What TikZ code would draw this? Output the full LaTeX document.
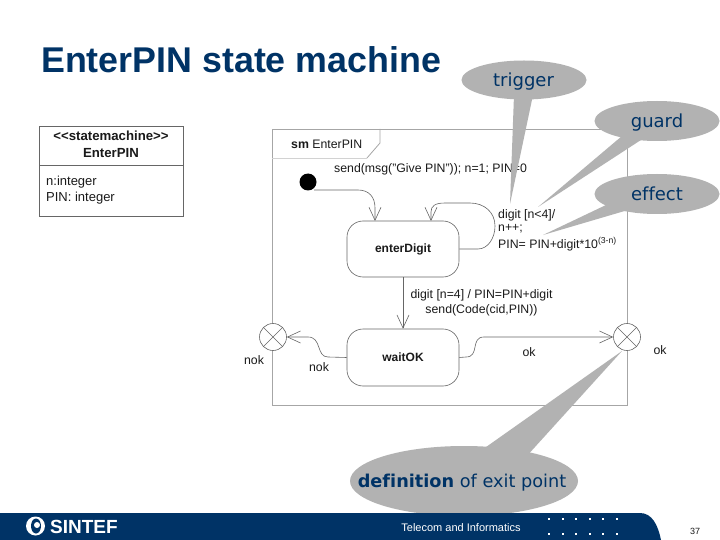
\documentclass[tikz,border=0pt]{standalone}
\usepackage{fontspec}
\setmainfont{Liberation Sans}
\newfontfamily\callfont[Ligatures=NoCommon]{DejaVu Sans}
\usetikzlibrary{calc,arrows.meta,shapes.geometric}
\definecolor{navy}{HTML}{003366}
\definecolor{bubble}{HTML}{B2B2B2}
\definecolor{frameline}{HTML}{A6A6A6}
\definecolor{ink}{HTML}{1A1A1A}
\definecolor{edge}{HTML}{666666}
\tikzset{
  frameln/.style={draw=frameline, line width=0.8pt},
  statebox/.style={draw=edge, line width=0.6pt, rounded corners=16pt, minimum width=112pt, minimum height=56pt, inner sep=0pt, text=ink, font=\fontsize{12}{14}\selectfont\bfseries},
  trans/.style={draw=edge, line width=0.6pt, -{Straight Barb[length=13pt,width=12pt,line width=0.6pt]}},
  exitpt/.style={circle, draw=edge, fill=white, line width=0.6pt, minimum size=27pt, inner sep=0pt},
  lab/.style={text=ink, inner sep=0pt, font=\fontsize{12.3}{14}\selectfont},
  clslab/.style={text=ink, inner sep=0pt, font=\fontsize{13}{15}\selectfont},
  tag/.style={ellipse, fill=bubble, inner sep=0pt},
  tagtext/.style={anchor=base, inner sep=0pt, text=navy, font=\callfont\fontsize{18}{20}\selectfont},
  tail/.style={fill=bubble},
}
\begin{document}
\begin{tikzpicture}[x=1pt,y=-1pt]
  \useasboundingbox (0,0) rectangle (720,540);
  \fill[white] (0,0) rectangle (720,540);
  \node[anchor=west, inner sep=0pt, text=navy, font=\fontsize{35.8}{40}\selectfont\bfseries] (title) at (41,60) {EnterPIN state machine};

  % class box
  \draw[draw=edge, line width=0.8pt] (39,126) rectangle (183,216);
  \draw[draw=edge, line width=0.8pt] (39,165) -- (183,165);
  \node[clslab, font=\fontsize{13.2}{15}\selectfont\bfseries] (stereo) at (111,136) {<{}<statemachine>{}>};
  \node[clslab, font=\fontsize{13.2}{15}\selectfont\bfseries] (clsname) at (111,153) {EnterPIN};
  \node[clslab, anchor=west] (attn) at (46,182) {n:integer};
  \node[clslab, anchor=west] (attpin) at (46,198) {PIN: integer};

  % frame
  \draw[frameln] (272,129) rectangle (627,405);
  \draw[draw=frameline!50, line width=0.8pt] (272,158) -- (367,158);
  \draw[frameln] (367,158) -- (380,143) -- (380,129);
  \node[lab, anchor=west] (smname) at (291,144) {\textbf{sm} EnterPIN};

  % states
  \node[statebox] (enterDigit) at (403,249) {enterDigit};
  \node[statebox, minimum height=57pt] (waitOK) at (403,357.5) {waitOK};
  \node[circle, fill=black, minimum size=17pt, inner sep=0pt] (init) at (308,182) {};
  \node[exitpt] (exitnok) at (273,337) {};
  \node[exitpt] (exitok) at (627,337) {};
  \draw[draw=edge, line width=0.6pt] (exitnok.45) -- (exitnok.225) (exitnok.135) -- (exitnok.315);
  \draw[draw=edge, line width=0.6pt] (exitok.45) -- (exitok.225) (exitok.135) -- (exitok.315);

  % transitions
  \draw[trans] (init.south east |- 0,190) -- (358,190) .. controls (369,190) and (375,197) .. (375,208) -- (375,221);
  \draw[trans] (enterDigit.east) -- (478,249) .. controls (488,249) and (495,238) .. (495,226) .. controls (495,212) and (484,203) .. (470,203) -- (445,203) .. controls (435,203) and (431,206) .. (431,212) -- (431,221);
  \draw[trans] (enterDigit.south) -- (waitOK.north);
  \draw[trans] (waitOK.west) -- (328,357) .. controls (316,357) and (322,337) .. (308,337) -- (exitnok.east);
  \draw[trans] (waitOK.east) -- (466,357) .. controls (480,357) and (470,337) .. (484,337) -- (exitok.west);

  % labels
  \node[lab, anchor=west] (entry) at (334,169) {send(msg("Give PIN")); n=1; PIN=0};
  \node[lab, anchor=west] (loopa) at (498,215) {digit [n<4]/};
  \node[lab, anchor=west] (loopb) at (498,229) {n++;};
  \node[lab, anchor=west] (loopc) at (498,244) {PIN= PIN+digit*10\textsuperscript{(3-n)}};
  \node[lab] (downa) at (481.5,295) {digit [n=4] / PIN=PIN+digit};
  \node[lab] (downb) at (481.5,310) {send(Code(cid,PIN))};
  \node[lab] (noka) at (254,360) {nok};
  \node[lab] (nokb) at (319,367) {nok};
  \node[lab] (oka) at (529,352) {ok};
  \node[lab] (okb) at (660,350) {ok};

  % callouts
  \fill[tail] (514,95) -- (510,204) -- (533,95) -- cycle;
  \fill[tail] (622,136) -- (538,207) -- (644,138) -- cycle;
  \fill[tail] (606,205) -- (543,235) -- (628,210) -- cycle;
  \fill[tail] (479,452) -- (622,351) -- (525,458) -- cycle;
  \node[tag, minimum width=125pt, minimum height=39pt] (trigger) at (524,80) {};
  \node[tag, minimum width=125pt, minimum height=40pt] (guard) at (657,121) {};
  \node[tag, minimum width=125pt, minimum height=40pt] (effect) at (657,194) {};
  \node[tag, minimum width=228pt, minimum height=70pt] (exitdef) at (464,481) {};
  \node[tagtext] (triggertext) at (523.5,87) {trigger};
  \node[tagtext] (guardtext) at (657,128) {guard};
  \node[tagtext] (effecttext) at (657,200.5) {effect};
  \node[tagtext, font=\callfont\fontsize{17.7}{20}\selectfont] (exittext) at (462,487.5) {\textbf{definition} of exit point};

  % footer
  \fill[navy] (0,513) -- (640,513) .. controls (652,513) and (658,525) .. (661,540) -- (0,540) -- cycle;
  \foreach \i in {0,...,5} {
    \fill[white] ({549+13.6*\i-1},518) rectangle ++(2,2);
    \fill[white] ({549+13.6*\i-1},533) rectangle ++(2,2);
  }
  \node[circle, fill=white, minimum size=19pt, inner sep=0pt] (logo) at (35.5,526) {};
  \node[ellipse, fill=navy, minimum width=10pt, minimum height=15pt, inner sep=0pt] (logoin) at (36,526) {};
  \node[circle, fill=white, minimum size=6pt, inner sep=0pt] (logodot) at (37,525) {};
  \node[anchor=west, inner sep=0pt, text=white, font=\fontsize{19}{21}\selectfont\bfseries] (brand) at (50,526.5) {SINTEF};
  \node[inner sep=0pt, text=white, font=\fontsize{11}{13}\selectfont] (dept) at (461,528) {Telecom and Informatics};
  \node[inner sep=0pt, text=ink, font=\fontsize{9}{11}\selectfont] (pageno) at (695,531) {37};
\end{tikzpicture}
\end{document}
